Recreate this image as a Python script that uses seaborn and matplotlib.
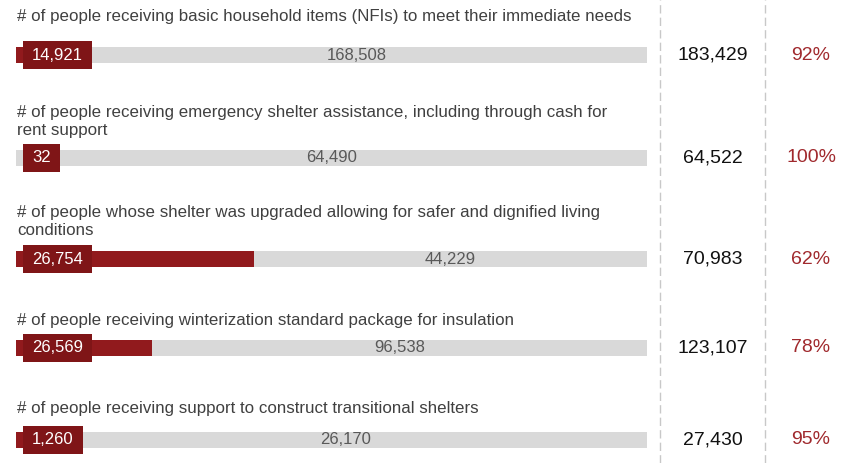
import matplotlib
matplotlib.use("Agg")
import matplotlib.pyplot as plt
import seaborn as sns
import pandas as pd
from matplotlib.lines import Line2D
from matplotlib.patches import Rectangle

# ---- data ----
categories = [
    "# of people receiving basic household items (NFIs) to meet their immediate needs",
    "# of people receiving emergency shelter assistance, including through cash for\nrent support",
    "# of people whose shelter was upgraded allowing for safer and dignified living\nconditions",
    "# of people receiving winterization standard package for insulation",
    "# of people receiving support to construct transitional shelters",
]
reached = [14921, 32, 26754, 26569, 1260]
remaining = [168508, 64490, 44229, 96538, 26170]
totals = [183429, 64522, 70983, 123107, 27430]
pct_remaining = ["92%", "100%", "62%", "78%", "95%"]

# ---- layout (pixels) ----
W, H = 844, 463
row_y = [55, 158, 259, 348, 440]
title_y = [17, 112, 212, 320, 408]
line_step = 19
bar_h = 16
bar_left, bar_right = 16, 647

sns.set_theme(style="white")
plt.rcParams["font.family"] = ["Liberation Sans", "DejaVu Sans"]

fig = plt.figure(figsize=(W / 100, H / 100), dpi=100)
ax = fig.add_axes([bar_left / W, 0, (bar_right - bar_left) / W, 1])

df = pd.DataFrame({
    "pos": row_y,
    "full": [1.0] * len(totals),
    "frac": [r / t for r, t in zip(reached, totals)],
})
gap = min(b - a for a, b in zip(row_y[:-1], row_y[1:]))
sns.barplot(data=df, x="full", y="pos", orient="h", native_scale=True,
            color="#D9D9D9", saturation=1, width=bar_h / gap, errorbar=None,
            linewidth=0, ax=ax)
sns.barplot(data=df, x="frac", y="pos", orient="h", native_scale=True,
            color="#911A1D", saturation=1, width=bar_h / gap, errorbar=None,
            linewidth=0, ax=ax)
ax.set_xlim(0, 1)
ax.set_ylim(H, 0)
ax.axis("off")


def fx(px):
    return px / W


def fy(py):
    return 1 - py / H


# titles
for t, y in zip(categories, title_y):
    for i, line in enumerate(t.split("\n")):
        fig.text(fx(17), fy(y + i * line_step), line, ha="left", va="center",
                 fontsize=12.2, color="#404040")

# remaining labels centered in gray segment
for fr, rem, y in zip(df["frac"], remaining, row_y):
    ax.text((fr + 1) / 2, y, f"{rem:,}", ha="center", va="center",
            fontsize=12, color="#595959")

# reached labels in dark red boxes
fig.canvas.draw()
renderer = fig.canvas.get_renderer()
for val, y in zip(reached, row_y):
    t = fig.text(fx(32), fy(y), f"{val:,}", ha="left", va="center",
                 fontsize=12, color="white", zorder=5)
    bb = t.get_window_extent(renderer)
    x0 = bb.x0 - 9
    w = bb.width + 18
    rect = Rectangle((x0 / W, fy(y) - 14 / H), w / W, 28 / H,
                     transform=fig.transFigure, facecolor="#7F1517",
                     edgecolor="none", zorder=4)
    fig.add_artist(rect)

# totals and percentages
for tot, pc, y in zip(totals, pct_remaining, row_y):
    fig.text(fx(713), fy(y), f"{tot:,}", ha="center", va="center",
             fontsize=14, color="#111111")
    fig.text(fx(811), fy(y), pc, ha="center", va="center",
             fontsize=14, color="#A0292D")

# dashed separators
for xp in (660, 765):
    fig.add_artist(Line2D([fx(xp)] * 2, [0, 1], transform=fig.transFigure,
                          color="#C8C8C8", lw=1, ls=(0, (6, 3))))

fig.savefig("out.png", dpi=100)
